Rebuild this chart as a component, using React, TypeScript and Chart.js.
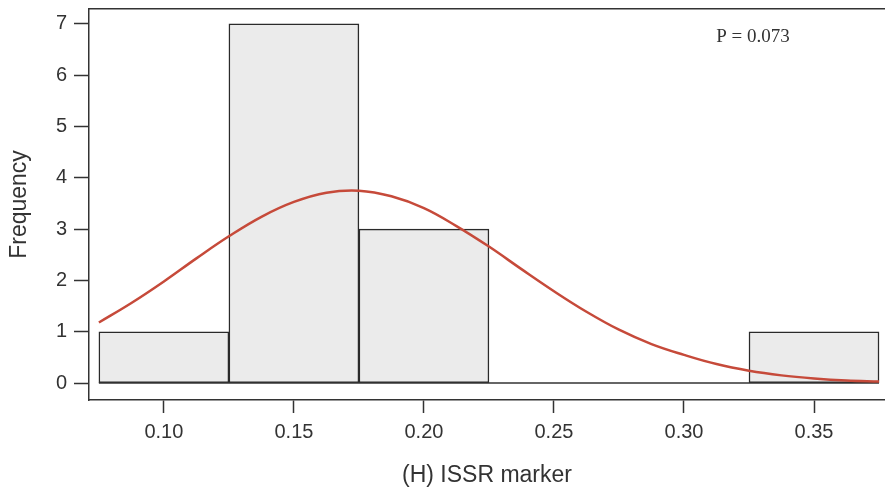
import React, { useEffect, useRef } from "react";
import { Chart, registerables } from "chart.js";

Chart.register(...registerables);

// Histogram bins (centres) and counts
const binCenters = [0.1, 0.15, 0.2, 0.25, 0.3, 0.35];
const binCounts = [1, 7, 3, 0, 0, 1];
const binEdges = [0.075, 0.375];

// Fitted normal curve
const curveX = [0.075, 0.0875, 0.1, 0.1125, 0.125, 0.1375, 0.15, 0.1625, 0.175, 0.1875, 0.2, 0.2125, 0.225, 0.2375, 0.25, 0.2625, 0.275, 0.2875, 0.3, 0.3125, 0.325, 0.3375, 0.35, 0.3625, 0.375];
const curveY = [1.18, 1.56, 1.98, 2.43, 2.86, 3.24, 3.53, 3.71, 3.75, 3.64, 3.41, 3.06, 2.66, 2.22, 1.79, 1.39, 1.04, 0.76, 0.55, 0.37, 0.24, 0.15, 0.09, 0.05, 0.03];

const xTicks = [0.1, 0.15, 0.2, 0.25, 0.3, 0.35];
const yTicks = [0, 1, 2, 3, 4, 5, 6, 7];

const xTitle = "(H) ISSR marker";
const yTitle = "Frequency";
const pLabel = "P = 0.073";

const X_MIN = 0.0712;
const X_MAX = 0.3773;
const Y_MIN = -0.33;
const Y_MAX = 7.29;

const AXIS = "#333333";
const SANS = "'Liberation Sans', Arial, Helvetica, sans-serif";

export default function App() {
  const ref = useRef<HTMLCanvasElement | null>(null);

  useEffect(() => {
    if (!ref.current) return;
    const pPlugin = {
      id: "pLabel",
      afterDraw(chart: any) {
        const { ctx, chartArea } = chart;
        ctx.save();
        ctx.font = "19px 'Liberation Serif', 'Times New Roman', serif";
        ctx.fillStyle = "#333";
        ctx.textAlign = "center";
        ctx.textBaseline = "middle";
        ctx.fillText(pLabel, chartArea.right - 132, chartArea.top + 28);
        ctx.restore();
      },
    };

    const chart = new Chart(ref.current, {
      type: "bar",
      data: {
        datasets: [
          {
            type: "line",
            label: "normal",
            data: curveX.map((x, i) => ({ x, y: curveY[i] })),
            borderColor: "#c64a3a",
            borderWidth: 2.5,
            pointRadius: 0,
            tension: 0.4,
            fill: false,
            order: 0,
          } as any,
          {
            type: "line",
            label: "baseline",
            data: binEdges.map((x) => ({ x, y: 0 })),
            borderColor: AXIS,
            borderWidth: 1.5,
            pointRadius: 0,
            fill: false,
            order: 1,
          } as any,
          {
            type: "bar",
            label: "counts",
            data: binCenters.map((x, i) => ({ x, y: binCounts[i] })),
            backgroundColor: "#ebebeb",
            borderColor: "#2a2a2a",
            borderWidth: 1.5,
            borderSkipped: false,
            barPercentage: 1,
            categoryPercentage: 1,
            order: 2,
          } as any,
        ],
      },
      options: {
        responsive: true,
        maintainAspectRatio: false,
        animation: false,
        events: [],
        layout: { padding: 0 },
        plugins: { legend: { display: false }, tooltip: { enabled: false } },
        scales: {
          x: {
            type: "linear",
            position: "bottom",
            min: X_MIN,
            max: X_MAX,
            offset: false,
            afterBuildTicks: (s: any) => {
              s.ticks = xTicks.map((v) => ({ value: v }));
            },
            afterFit: (s: any) => {
              s.height = 95;
              s.paddingLeft = 0;
              s.paddingRight = 0;
            },
            grid: {
              offset: false,
              drawOnChartArea: false,
              drawTicks: true,
              tickLength: 13,
              tickColor: AXIS,
              tickWidth: 1.5,
              color: AXIS,
            },
            border: { display: true, color: AXIS, width: 1.5 },
            ticks: {
              padding: 7,
              maxRotation: 0,
              autoSkip: false,
              color: "#333",
              font: { family: SANS, size: 20 },
              callback: (v: any) => Number(v).toFixed(2),
            },
            title: {
              display: true,
              text: xTitle,
              color: "#333",
              font: { family: SANS, size: 23 },
              padding: { top: 0, bottom: 6 },
            },
          },
          xTop: {
            type: "linear",
            position: "top",
            min: X_MIN,
            max: X_MAX,
            offset: false,
            afterFit: (s: any) => {
              s.height = 9;
              s.paddingLeft = 0;
              s.paddingRight = 0;
            },
            grid: { display: false, offset: false },
            ticks: { display: false },
            border: { display: true, color: AXIS, width: 1.5 },
          },
          y: {
            type: "linear",
            position: "left",
            min: Y_MIN,
            max: Y_MAX,
            afterBuildTicks: (s: any) => {
              s.ticks = yTicks.map((v) => ({ value: v }));
            },
            afterFit: (s: any) => {
              s.width = 89;
              s.paddingTop = 0;
              s.paddingBottom = 0;
            },
            grid: {
              drawOnChartArea: false,
              drawTicks: true,
              tickLength: 15,
              tickColor: AXIS,
              tickWidth: 1.5,
              color: AXIS,
            },
            border: { display: true, color: AXIS, width: 1.5 },
            ticks: {
              padding: 7,
              color: "#333",
              font: { family: SANS, size: 20 },
            },
            title: {
              display: true,
              text: yTitle,
              color: "#333",
              font: { family: SANS, size: 23 },
              padding: { top: 6, bottom: 0 },
            },
          },
        },
      } as any,
      plugins: [pPlugin],
    });
    return () => chart.destroy();
  }, []);

  return (
    <div style={{ position: "fixed", left: 0, top: 0, width: 885, height: 495, background: "#fff" }}>
      <canvas ref={ref} style={{ display: "block" }} />
    </div>
  );
}
